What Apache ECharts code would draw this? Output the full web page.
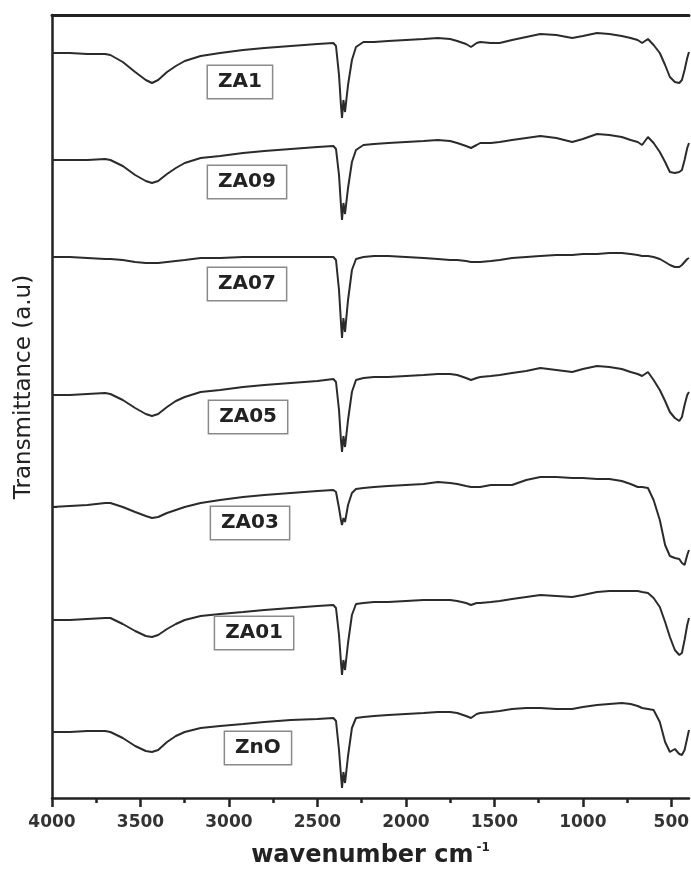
<!DOCTYPE html>
<html>
<head>
<meta charset="utf-8">
<title>FTIR spectra</title>
<script src="https://cdn.jsdelivr.net/npm/echarts@6/dist/echarts.min.js"></script>
<style>
  html, body { margin: 0; padding: 0; background: #fff; }
  #main { width: 691px; height: 869px; }
</style>
</head>
<body>
<div id="main"></div>
<script>
// wavenumber points (cm-1) shared by all spectra
var wn = [4000, 3900, 3800, 3700, 3670, 3600, 3530, 3470, 3435, 3400,
  3350, 3300, 3250, 3160, 3050, 2920, 2800, 2650, 2500, 2410,
  2395, 2378, 2367, 2361, 2353, 2344, 2327, 2305, 2282, 2240,
  2180, 2100, 2000, 1900, 1820, 1750, 1710, 1660, 1632, 1600,
  1580, 1520, 1470, 1400, 1320, 1240, 1150, 1060, 1000, 920,
  850, 780, 730, 690, 665, 632, 600, 565, 535, 508,
  480, 455, 440, 425, 410, 400];

// transmittance (a.u, stacked)
var za1 = [745,745,744,744,743, 736,726,718,715,718, 726,732,737,742,745, 748,750,752,754,755,
  752,723,693,680,698, 686,713,738,751,756, 756,757,758,759,760, 759,757,754,751,755,
  756,755,755,758,761, 764,763,760,762,765, 764,762,760,758,755, 759,753,745,733,721,
  716,715,718,728,740, 746];
var za09 = [638,638,638,639,638, 632,623,617,615,617, 624,630,635,640,642, 645,647,649,651,652,
  649,623,593,578,595, 584,610,636,648,653, 654,655,656,657,658, 657,655,652,650,653,
  655,655,656,658,660, 662,660,656,659,664, 663,661,658,656,653, 661,655,646,636,626,
  625,626,628,638,650, 655];
var za07 = [541,541,540,539,539, 538,536,535,535,535, 536,537,538,540,540, 541,541,541,541,541,
  538,508,476,460,480, 466,498,528,539,541, 542,542,541,540,539, 538,538,537,536,536,
  536,537,538,540,541, 542,543,543,544,544, 545,545,544,543,542, 542,541,539,536,533,
  531,531,533,536,539, 540];
var za05 = [403,403,404,405,404, 398,390,384,382,384, 391,397,401,406,408, 411,413,415,417,419,
  416,388,358,346,362, 351,378,406,418,420, 421,421,422,423,424, 424,423,420,418,420,
  421,422,423,425,427, 430,428,426,429,432, 431,429,426,424,422, 426,418,408,397,386,
  380,377,381,393,403, 406];
var za03 = [291,292,293,295,295, 291,286,282,280,281, 285,288,291,295,298, 301,303,305,307,308,
  306,290,278,273,280, 276,293,305,309,310, 311,312,313,314,316, 315,314,312,311,311,
  311,313,313,313,318, 321,321,320,320,319, 319,317,314,311,311, 310,298,278,253,242,
  240,239,235,233,243, 248];
var za01 = [178,178,179,180,180, 174,167,162,161,163, 169,174,178,182,184, 186,188,190,192,193,
  190,163,136,123,138, 128,155,183,194,195, 196,196,197,198,198, 198,197,195,193,195,
  195,196,197,199,201, 203,202,201,203,206, 207,207,207,207,206, 205,200,191,176,161,
  148,143,145,158,173, 180];
var zno = [66,66,67,67,66, 60,52,47,46,48, 56,62,66,70,72, 74,76,78,79,80,
  77,48,23,10,26, 15,42,70,80,81, 82,83,84,85,86, 86,85,82,80,84,
  85,86,87,89,90, 90,89,89,91,93, 94,95,94,92,90, 89,88,76,56,46,
  49,44,43,48,60, 68];

var names = ['ZA1', 'ZA09', 'ZA07', 'ZA05', 'ZA03', 'ZA01', 'ZnO'];
var spectra = [za1, za09, za07, za05, za03, za01, zno];
// where each sample name sits [wavenumber, a.u]
var labelAt = [[2938, 716], [2898, 616], [2898, 514], [2892, 381], [2881, 275], [2858, 165], [2836, 50]];

var majorTicks = [4000, 3500, 3000, 2500, 2000, 1500, 1000, 500];
var minorTicks = [3750, 3250, 2750, 2250, 1750, 1250, 750];

var myChart = echarts.init(document.getElementById('main'));
var ink = '#222';

var series = [];
for (var i = 0; i < spectra.length; i++) {
  var pts = [];
  for (var j = 0; j < wn.length; j++) {
    pts.push([wn[j], spectra[i][j]]);
  }
  series.push({
    name: names[i],
    type: 'line',
    showSymbol: false,
    symbol: 'none',
    smooth: false,
    lineStyle: { color: '#2b2b2b', width: 2 },
    data: pts,
    markPoint: {
      symbol: 'rect',
      symbolSize: 1,
      itemStyle: { color: 'rgba(0,0,0,0)' },
      label: {
        show: true,
        position: 'inside',
        formatter: names[i],
        fontFamily: 'DejaVu Sans',
        fontWeight: 'bold',
        fontSize: 20,
        lineHeight: 20,
        color: ink,
        backgroundColor: '#fff',
        borderColor: '#8a8a8a',
        borderWidth: 1.5,
        padding: [6, 10]
      },
      data: [{ coord: labelAt[i] }]
    }
  });
}

var option = {
  animation: false,
  backgroundColor: '#fff',
  grid: { left: 52, right: 2, top: 15, bottom: 71, containLabel: false, outerBoundsMode: 'none' },
  xAxis: [{
    type: 'value', min: 400, max: 4000, inverse: true, position: 'bottom',
    axisLine: { onZero: false, lineStyle: { color: ink, width: 2.5 } },
    axisTick: { customValues: majorTicks, length: 9, lineStyle: { color: ink, width: 2.5 } },
    axisLabel: {
      customValues: majorTicks, margin: 16,
      formatter: function (v) { return String(v); },
      fontFamily: 'DejaVu Sans', fontWeight: 'bold', fontSize: 17, color: '#333'
    },
    splitLine: { show: false },
    name: '{a|wavenumber cm}{b|-1}',
    nameLocation: 'middle',
    nameGap: 44,
    nameTextStyle: {
      rich: {
        a: { fontFamily: 'DejaVu Sans', fontWeight: 'bold', fontSize: 24, lineHeight: 28, color: ink },
        b: { fontFamily: 'DejaVu Sans', fontWeight: 'bold', fontSize: 12, lineHeight: 28, verticalAlign: 'top', color: ink, padding: [0, 0, 0, 3] }
      }
    }
  }, {
    type: 'value', min: 400, max: 4000, inverse: true, position: 'bottom',
    axisLine: { show: false, onZero: false },
    axisTick: { customValues: minorTicks, length: 5, lineStyle: { color: ink, width: 2.5 } },
    axisLabel: { show: false },
    splitLine: { show: false }
  }, {
    type: 'value', min: 400, max: 4000, inverse: true, position: 'top',
    axisLine: { onZero: false, lineStyle: { color: ink, width: 3 } },
    axisTick: { show: false },
    axisLabel: { show: false },
    splitLine: { show: false }
  }],
  yAxis: {
    type: 'value', min: 0, max: 783,
    axisLine: { show: true, onZero: false, lineStyle: { color: ink, width: 2.5 } },
    axisTick: { show: true, inside: true, length: 5, customValues: [745, 638, 541, 403, 291, 178, 66], lineStyle: { color: ink, width: 2 } },
    axisLabel: { show: false },
    splitLine: { show: false }
  },
  graphic: [{
    type: 'text',
    x: 24, y: 387,
    rotation: Math.PI / 2,
    style: {
      text: 'Transmittance (a.u)',
      fontFamily: 'DejaVu Sans',
      fontSize: 23,
      fill: ink,
      align: 'center',
      verticalAlign: 'middle'
    }
  }],
  series: series
};

myChart.setOption(option);
</script>
</body>
</html>
